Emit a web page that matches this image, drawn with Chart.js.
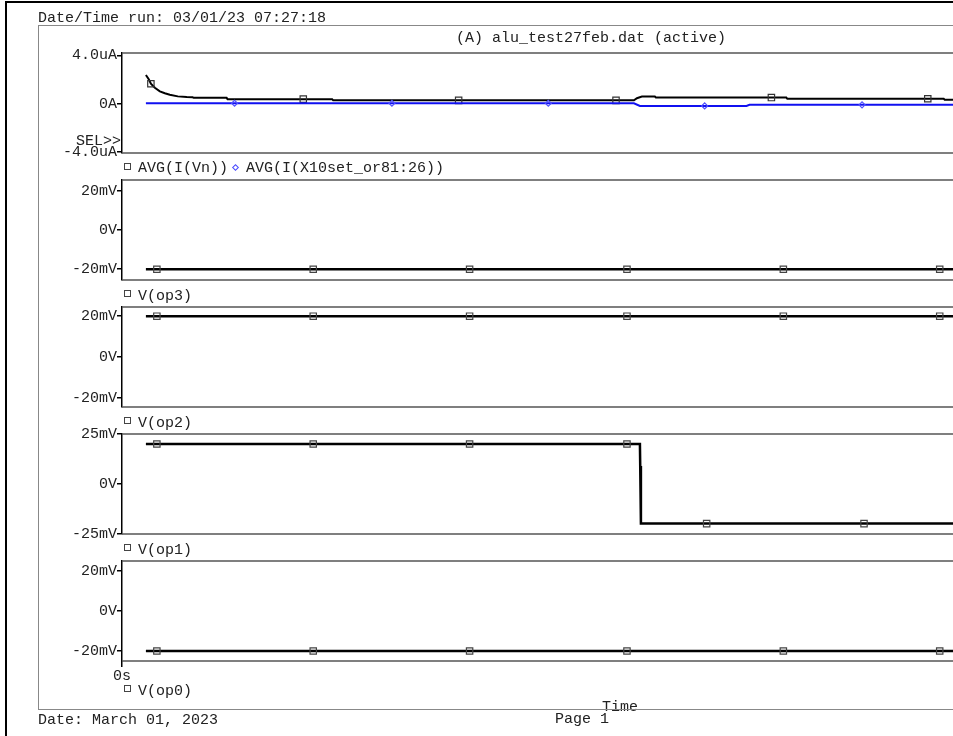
<!DOCTYPE html>
<html>
<head>
<meta charset="utf-8">
<script src="https://cdn.jsdelivr.net/npm/chart.js@4.4.1/dist/chart.umd.min.js"></script>
<style>
html, body { margin: 0; padding: 0; background: #fff; overflow: hidden; width: 953px; height: 736px; }
#page { position: relative; width: 1200px; height: 736px; font-family: 'Liberation Mono', 'Courier New', monospace; font-size: 15px; color: #222; }
.txt { position: absolute; line-height: 15px; white-space: pre; }
canvas { position: absolute; left: 0; }
.frame { position: absolute; left: 38px; top: 25px; width: 1108px; height: 683px; border: 1.5px solid #888; }
.edge { position: absolute; left: 5px; top: 1px; width: 1200px; height: 800px; border-left: 2px solid #000; border-top: 2px solid #000; }
.sq { position: absolute; width: 5px; height: 5px; border: 1px solid #444; }
.dia { position: absolute; width: 3px; height: 3px; border: 1px solid #4a4aff; transform: rotate(45deg); }
</style>
</head>
<body>
<div id="page">
  <div class="edge"></div>

  <canvas id="p1" width="1130" height="124" style="top:41px"></canvas>
  <canvas id="p2" width="1130" height="124" style="top:168px"></canvas>
  <canvas id="p3" width="1130" height="124" style="top:295px"></canvas>
  <canvas id="p4" width="1130" height="124" style="top:422px"></canvas>
  <canvas id="p5" width="1130" height="167" style="top:549px"></canvas>

  <div class="frame"></div>

  <div class="txt" style="left:38px; top:11px">Date/Time run: 03/01/23 07:27:18</div>
  <div class="txt" style="left:456px; top:31px">(A) alu_test27feb.dat (active)</div>
  <div class="txt" style="left:76px; top:134px">SEL&gt;&gt;</div>

  <div class="sq" style="left:124px; top:163px"></div>
  <div class="txt" style="left:138px; top:161px">AVG(I(Vn))</div>
  <div class="dia" style="left:233px; top:165px"></div>
  <div class="txt" style="left:246px; top:161px">AVG(I(X10set_or81:26))</div>

  <div class="sq" style="left:124px; top:290px"></div>
  <div class="txt" style="left:138px; top:289px">V(op3)</div>
  <div class="sq" style="left:124px; top:417px"></div>
  <div class="txt" style="left:138px; top:416px">V(op2)</div>
  <div class="sq" style="left:124px; top:544px"></div>
  <div class="txt" style="left:138px; top:543px">V(op1)</div>
  <div class="sq" style="left:124px; top:685px"></div>
  <div class="txt" style="left:138px; top:684px">V(op0)</div>

  <div class="txt" style="left:38px; top:713px">Date: March 01, 2023</div>
  <div class="txt" style="left:555px; top:712px">Page 1</div>
</div>

<script>
// eje de tiempo (ns)
const timeMax = 1000;
const timeTickVals = [0];
const timeTickLabels = ['0s'];

// panel 1: AVG(I(Vn)) y AVG(I(X10set_or81:26)) en uA
const vnTime = [24, 27, 29, 33, 38, 43, 48, 56, 65, 71, 72, 105, 106, 182, 211, 212, 338, 496, 514, 517, 522, 535, 536, 652, 667, 668, 809, 825, 826, 1000];
const vnVals = [2.37, 2.0, 1.65, 1.32, 1.02, 0.86, 0.74, 0.6, 0.54, 0.52, 0.48, 0.48, 0.37, 0.37, 0.37, 0.27, 0.27, 0.27, 0.27, 0.45, 0.58, 0.58, 0.5, 0.5, 0.5, 0.4, 0.4, 0.4, 0.32, 0.32];
const vnMarks = [29, 182, 338, 496, 652, 809];

const selTime = [24, 113, 271, 428, 514, 520, 585, 627, 630, 743, 1000];
const selVals = [0.03, 0.03, 0.03, 0.03, 0.03, -0.19, -0.19, -0.19, -0.1, -0.1, -0.1];
const selMarks = [113, 271, 428, 585, 743];

const p1TickVals = [-4, 0, 4];
const p1TickLabels = ['-4.0uA', '0A', '4.0uA'];

// paneles 2..5 en mV
const flatTime = [24, 35, 192, 349, 507, 664, 821, 1000];
const flatMarks = [35, 192, 349, 507, 664, 821];
const op3Vals = [-20, -20, -20, -20, -20, -20, -20, -20];
const op2Vals = [20, 20, 20, 20, 20, 20, 20, 20];
const op0Vals = [-20, -20, -20, -20, -20, -20, -20, -20];

const op1Time = [24, 35, 192, 349, 507, 520, 520.3, 521, 587, 745, 1000];
const op1Vals = [20, 20, 20, 20, 20, 20, 9, -19.8, -19.8, -19.8, -19.8];
const op1Marks = [35, 192, 349, 507, 587, 745];

const mvTickVals = [-20, 0, 20];
const mvTickLabels = ['-20mV', '0V', '20mV'];
const op1TickVals = [-25, 0, 25];
const op1TickLabels = ['-25mV', '0V', '25mV'];

const FONT = { family: "'Liberation Mono', 'Courier New', monospace", size: 15 };

// marco del area de trazado
const boxPlugin = {
    id: 'box',
    afterDatasetsDraw(chart) {
        const a = chart.chartArea;
        const ctx = chart.ctx;
        ctx.save();
        ctx.strokeStyle = '#555';
        ctx.lineWidth = 1.5;
        ctx.beginPath();
        ctx.moveTo(a.left, a.top);
        ctx.lineTo(a.right, a.top);
        ctx.lineTo(a.right, a.bottom);
        ctx.lineTo(a.left, a.bottom);
        ctx.stroke();
        ctx.restore();
    }
};

function toPoints(times, vals) {
    return times.map((t, i) => ({ x: t, y: vals[i] }));
}

function trace(times, vals, marks, color, width, style, radius, markColor) {
    return {
        data: toPoints(times, vals),
        borderColor: color,
        borderWidth: width,
        tension: 0,
        pointStyle: style,
        pointRadius: c => marks.includes(c.raw.x) ? radius : 0,
        pointBorderColor: markColor,
        pointBorderWidth: 1.2,
        pointBackgroundColor: 'rgba(0,0,0,0)',
        clip: false
    };
}

function makePanel(id, datasets, yMin, yMax, tickVals, tickLabels, showTime) {
    const ctx = document.getElementById(id).getContext('2d');
    const xAxis = {
        type: 'linear',
        min: 0,
        max: timeMax,
        display: showTime
    };
    if (showTime) {
        xAxis.afterBuildTicks = s => { s.ticks = timeTickVals.map(v => ({ value: v })); };
        xAxis.afterFit = s => { s.height = 55; };
        xAxis.ticks = {
            callback: v => timeTickLabels[timeTickVals.indexOf(v)],
            font: FONT, color: '#222', padding: 0, autoSkip: false, maxRotation: 0
        };
        xAxis.grid = { drawOnChartArea: false, drawTicks: true, tickLength: 6, color: '#000', lineWidth: 1.5 };
        xAxis.border = { display: false };
        xAxis.title = { display: true, text: 'Time', font: FONT, color: '#222', padding: 0 };
    }
    return new Chart(ctx, {
        type: 'line',
        data: { datasets: datasets },
        options: {
            responsive: false,
            animation: false,
            events: [],
            layout: { padding: { top: 12, bottom: showTime ? 0 : 12, left: 0, right: 12 } },
            plugins: { legend: { display: false }, tooltip: { enabled: false } },
            scales: {
                x: xAxis,
                y: {
                    min: yMin,
                    max: yMax,
                    afterBuildTicks: s => { s.ticks = tickVals.map(v => ({ value: v })); },
                    afterFit: s => { s.width = 122; },
                    ticks: {
                        callback: v => tickLabels[tickVals.indexOf(v)],
                        font: FONT, color: '#222', padding: 0, autoSkip: false
                    },
                    grid: { drawOnChartArea: false, drawTicks: true, tickLength: 5, color: '#000', lineWidth: 1.5 },
                    border: { display: true, color: '#000', width: 1.5 }
                }
            }
        },
        plugins: [boxPlugin]
    });
}

makePanel('p1', [
    trace(selTime, selVals, selMarks, '#1010f0', 2, 'rectRot', 3, '#5050ff'),
    trace(vnTime, vnVals, vnMarks, '#000', 2, 'rect', 4.5, '#333')
], -4.1, 4.2, p1TickVals, p1TickLabels, false);

makePanel('p2', [trace(flatTime, op3Vals, flatMarks, '#000', 2.5, 'rect', 4.5, '#444')],
    -25.5, 25.5, mvTickVals, mvTickLabels, false);

makePanel('p3', [trace(flatTime, op2Vals, flatMarks, '#000', 2.5, 'rect', 4.5, '#444')],
    -24.5, 24.5, mvTickVals, mvTickLabels, false);

makePanel('p4', [trace(op1Time, op1Vals, op1Marks, '#000', 2.5, 'rect', 4.5, '#444')],
    -25, 25, op1TickVals, op1TickLabels, false);

makePanel('p5', [trace(flatTime, op0Vals, flatMarks, '#000', 2.5, 'rect', 4.5, '#444')],
    -25, 25, mvTickVals, mvTickLabels, true);
</script>
</body>
</html>
